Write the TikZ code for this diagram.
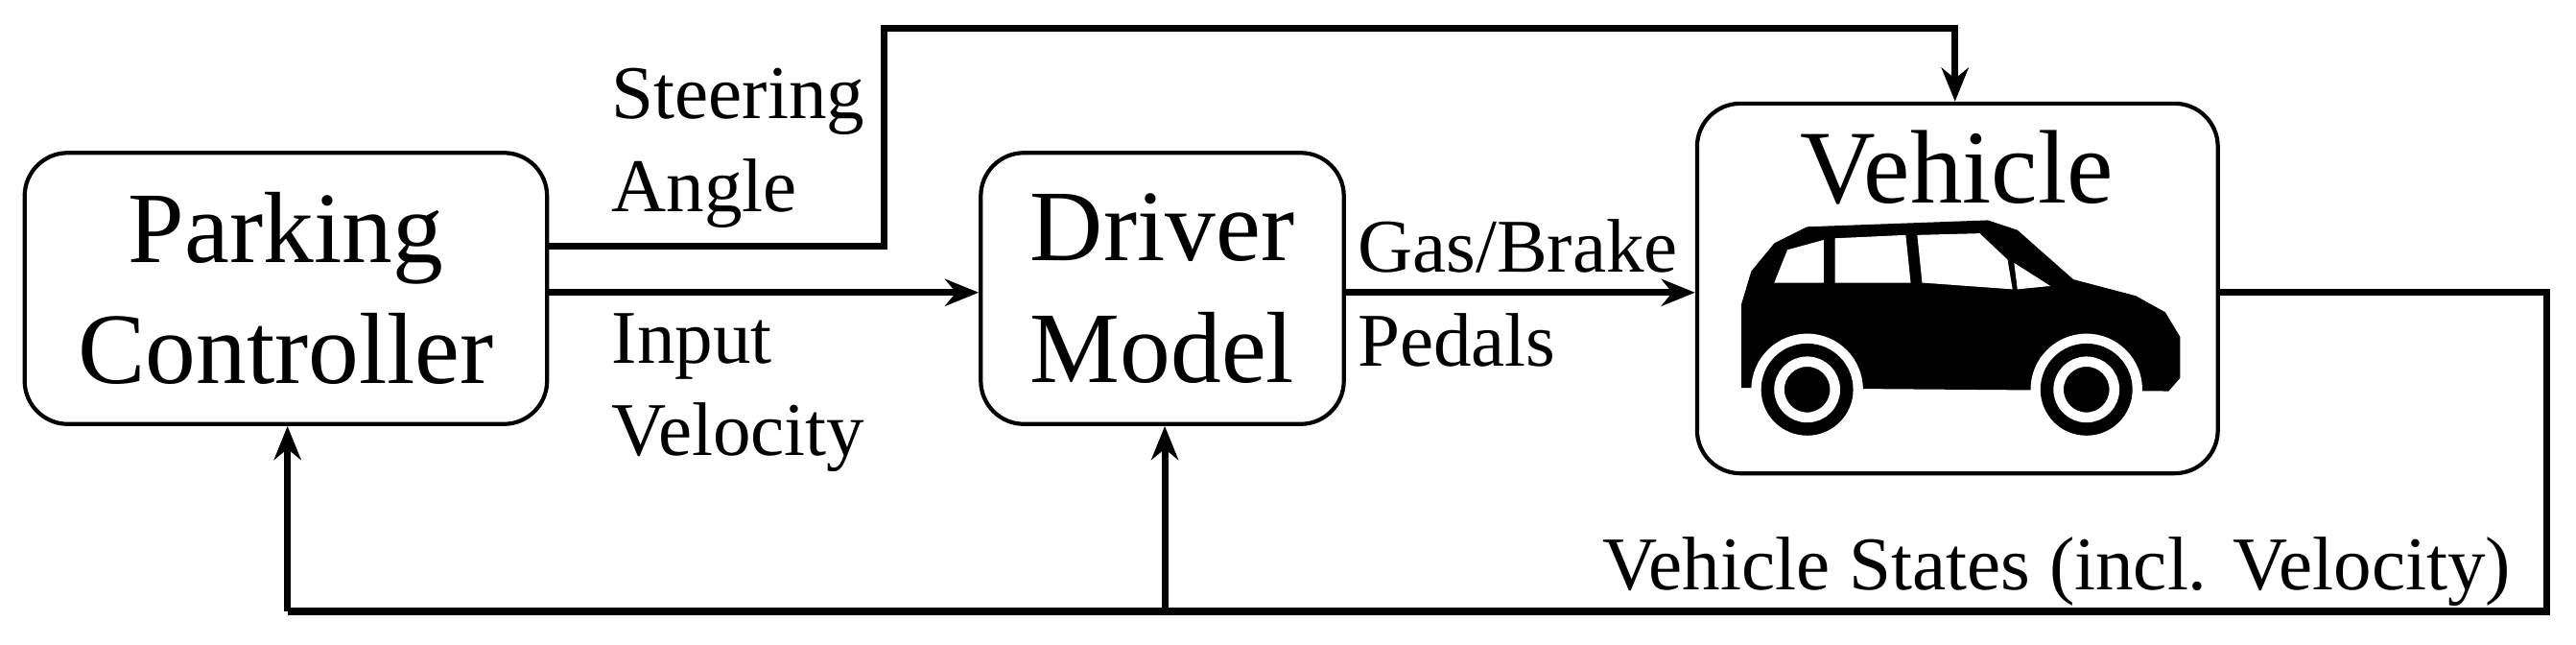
\documentclass[tikz,border=0pt]{standalone}
\usepackage{fontspec}
\setmainfont{Liberation Serif}
\usetikzlibrary{arrows.meta}
\begin{document}
\begin{tikzpicture}[x=0.01712cm,y=-0.01712cm,
  box/.style={draw,line width=1.2pt,rounded corners=0.45cm,inner sep=0pt},
  conn/.style={line width=2pt,-{Stealth[length=10pt,width=8pt]}},
  lbl/.style={font=\fontsize{22.5}{27}\selectfont,align=left,anchor=west,inner sep=0pt},
  big/.style={font=\fontsize{30}{36}\selectfont,align=center}]
\useasboundingbox (0,0) rectangle (1568,392);
\node[box,minimum width=318*0.01712cm,minimum height=165*0.01712cm] (pc) at (174,175.5) {};
\node[big] at (pc) {Parking\\Controller};
\node[box,minimum width=221*0.01712cm,minimum height=165*0.01712cm] (dm) at (707.5,175.5) {};
\node[big] at (dm) {Driver\\Model};
\node[box,minimum width=317*0.01712cm,minimum height=225*0.01712cm] (vh) at (1191.5,175.5) {};
\node[font=\fontsize{31}{36}\selectfont] (vt) at (1191,102) {Vehicle};
% car
\fill (1060,236) -- (1060,185) -- (1066,165) -- (1080,148) -- (1100,138) -- (1210,134) -- (1228,140) -- (1262,170) -- (1300,180) -- (1318,190) -- (1327,205) -- (1327,230) -- (1320,238) -- cycle;
\fill[white] (1080,172) -- (1088,152) -- (1110,146) -- (1110,172) -- cycle;
\fill[white] (1117,172) -- (1117,145) -- (1160,143) -- (1163,172) -- cycle;
\fill[white] (1170,172) -- (1167,143) -- (1205,142) -- (1222,158) -- (1225,176) -- cycle;
\fill[white] (1228,176) -- (1226,160) -- (1248,174) -- cycle;
\foreach \cx in {1100,1270}{
  \fill[white] (\cx,237) circle[radius=34*0.01712cm];
  \fill (\cx,237) circle[radius=28*0.01712cm];
  \draw[white,line width=3pt] (\cx,237) circle[radius=17*0.01712cm];
}
\coordinate (a) at (333,150);
\coordinate (b) at (538,150);
\coordinate (c) at (538,17);
\coordinate (d) at (1190,17);
\draw[conn] (a) -- (b) -- (c) -- (d) -- (d|-vh.north);
\draw[conn] (333,178) -- (dm.west|-0,178);
\draw[conn] (dm.east|-0,178) -- (vh.west|-0,178);
\coordinate (e) at (1550,178);
\coordinate (f) at (1550,372);
\coordinate (g) at (175,372);
\coordinate (h) at (709,372);
\draw[line width=2pt] (vh.east|-0,178) -- (e) -- (f) -- (g);
\draw[conn] (g) -- (g|-pc.south);
\draw[conn] (h) -- (h|-dm.south);
\node[lbl] at (372,62) {Steering};
\node[lbl] at (372,118) {Angle};
\node[lbl] at (372,211) {Input};
\node[lbl] at (372,266) {Velocity};
\node[lbl] at (826,150) {Gas/Brake};
\node[lbl] at (826,207) {Pedals};
\node[lbl] at (975,348) {Vehicle States (incl. Velocity)};
\end{tikzpicture}
\end{document}
